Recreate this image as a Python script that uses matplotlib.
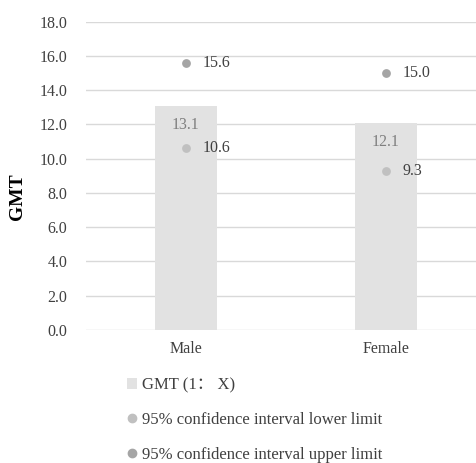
import numpy as np
import matplotlib.pyplot as plt
from matplotlib.lines import Line2D
from matplotlib.patches import Patch

groups = ["Male", "Female"]
gmt = [13.1, 12.1]
ci_lower = [10.6, 9.3]
ci_upper = [15.6, 15.0]
y_ticks = [0, 2, 4, 6, 8, 10, 12, 14, 16, 18]

bar_color = "#e2e2e2"
lower_color = "#c0c0c0"
upper_color = "#a5a5a5"
text_color = "#404040"
serif = ["Liberation Serif", "Noto Sans CJK SC"]

plt.rcParams["font.family"] = serif
plt.rcParams["font.size"] = 11.5

fig = plt.figure(figsize=(4.77, 4.63), dpi=100)
# axes in pixel coordinates: x 86..477, y 330(bottom)..21.7(top = 18)
W, H = 477, 463
ax = fig.add_axes([86 / W, (H - 330) / H, (477 - 86) / W, (330 - 21.7) / H])

x = np.arange(len(groups))
ax.bar(x, gmt, width=0.31, color=bar_color, zorder=2)
ax.scatter(x, ci_lower, s=40, color=lower_color, zorder=3, linewidths=0)
ax.scatter(x, ci_upper, s=40, color=upper_color, zorder=3, linewidths=0)

for xi, v in zip(x, gmt):
    ax.annotate(f"{v:.1f}", (xi, v), xytext=(0, -14), textcoords="offset points",
                ha="center", va="center", color="#7f7f7f")
for xi, v in zip(x, ci_lower):
    ax.annotate(f"{v:.1f}", (xi, v), xytext=(12, 0), textcoords="offset points",
                ha="left", va="center", color=text_color)
for xi, v in zip(x, ci_upper):
    ax.annotate(f"{v:.1f}", (xi, v), xytext=(12, 0), textcoords="offset points",
                ha="left", va="center", color=text_color)

ax.set_xlim(-0.5, 1.455)
ax.set_ylim(0, 18)
ax.set_yticks(y_ticks)
ax.set_yticklabels([f"{t:.1f}" for t in y_ticks], color=text_color, fontsize=11.5)
ax.set_xticks(x)
ax.set_xticklabels(groups, color=text_color, fontsize=11.5)
ax.tick_params(length=0, pad=13.5)
ax.tick_params(axis="x", pad=8)
ax.yaxis.grid(True, color="#d9d9d9", linewidth=1, zorder=0)
ax.set_axisbelow(True)
for s in ax.spines.values():
    s.set_visible(False)
fig.text(18 / W, 1 - 197 / H, "GMT", rotation=90, ha="center", va="center",
         fontweight="bold", fontsize=14, color="black")

handles = [
    Patch(facecolor=bar_color, edgecolor="none"),
    Line2D([], [], marker="o", linestyle="none", color=lower_color, markersize=6),
    Line2D([], [], marker="o", linestyle="none", color=upper_color, markersize=6),
]
labels = ["GMT (1： X)", "95% confidence interval lower limit",
          "95% confidence interval upper limit"]
fig.legend(handles, labels, loc="upper left", bbox_to_anchor=(119 / W, 1 - 369 / H),
           frameon=False, labelspacing=1.12, handlelength=0.6, handleheight=0.6,
           handletextpad=0.3, borderpad=0, fontsize=12, labelcolor=text_color)

fig.savefig("out.png", dpi=100)
